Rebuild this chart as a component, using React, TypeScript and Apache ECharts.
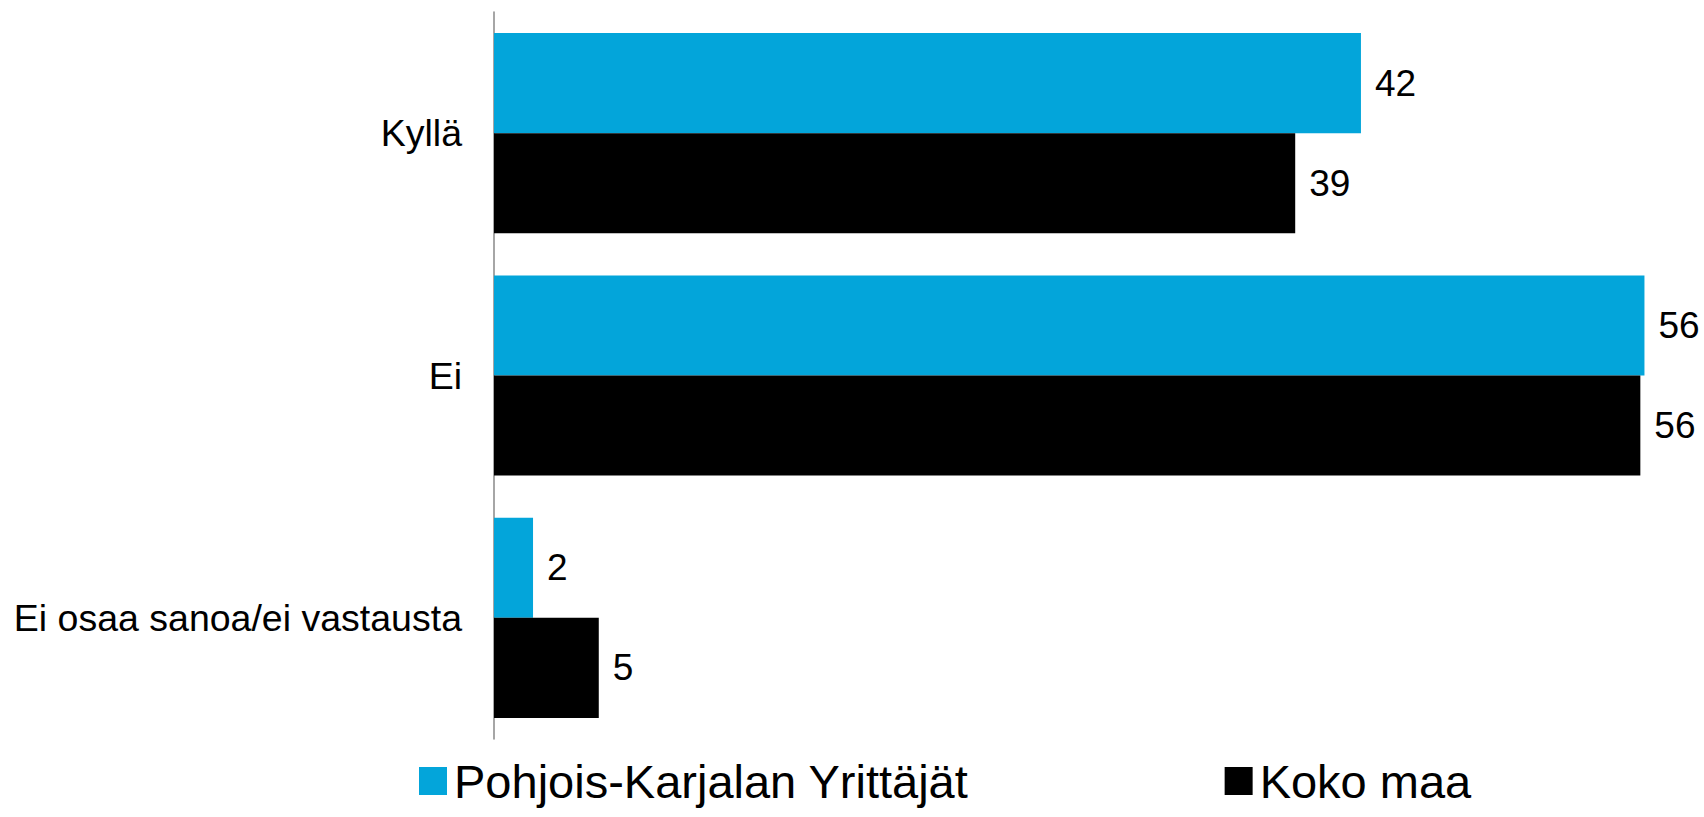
import React, { useEffect, useRef } from "react";
import * as echarts from "echarts";

const categories = ["Kyllä", "Ei", "Ei osaa sanoa/ei vastausta"];
const seriesNames = ["Pohjois-Karjalan Yrittäjät", "Koko maa"];
const regionValues = [42.2, 56.0, 1.9];
const nationalValues = [39.0, 55.8, 5.1];

const FONT = "'Liberation Sans', Arial, sans-serif";

export default function App() {
  const ref = useRef<HTMLDivElement>(null);
  useEffect(() => {
    document.body.style.margin = "0";
    const chart = echarts.init(ref.current!, null, { renderer: "svg" });
    const labelCfg = {
      show: true,
      position: "right" as const,
      distance: 14,
      color: "#000",
      fontSize: 37,
      fontFamily: FONT,
      formatter: (p: any) => String(Math.round(p.value)),
    };
    chart.setOption({
      animation: false,
      backgroundColor: "#fff",
      textStyle: { fontFamily: FONT },
      grid: { left: 494, top: 12, height: 727, width: 1171 },
      legend: {
        left: 419,
        top: 756,
        padding: 0,
        itemWidth: 28,
        itemHeight: 28,
        itemGap: 256,
        icon: "rect",
        textStyle: {
          fontSize: 47,
          lineHeight: 50,
          color: "#000",
          fontFamily: FONT,
          padding: [0, 0, 0, 2],
        },
        data: seriesNames,
      },
      xAxis: {
        type: "value",
        min: 0,
        max: 57,
        show: false,
        splitLine: { show: false },
      },
      yAxis: {
        type: "category",
        inverse: true,
        data: categories,
        axisLine: { show: true, lineStyle: { color: "#888", width: 1.5 } },
        axisTick: { show: false },
        axisLabel: { fontSize: 37.5, color: "#000", fontFamily: FONT, margin: 32 },
      },
      series: [
        {
          name: seriesNames[0],
          type: "bar",
          data: regionValues,
          itemStyle: { color: "#03A5DA" },
          barGap: "0%",
          barCategoryGap: "17.4%",
          label: labelCfg,
        },
        {
          name: seriesNames[1],
          type: "bar",
          data: nationalValues,
          itemStyle: { color: "#000000" },
          barGap: "0%",
          barCategoryGap: "17.4%",
          label: labelCfg,
        },
      ],
    });
    return () => chart.dispose();
  }, []);
  return <div ref={ref} style={{ width: 1704, height: 817 }} />;
}
